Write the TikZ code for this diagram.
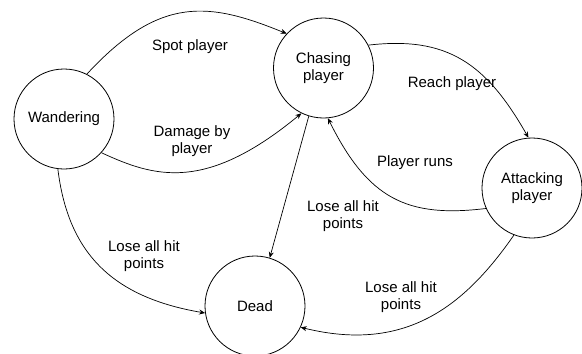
\documentclass[tikz,border=0pt]{standalone}
\usepackage{fontspec}
\setmainfont{Liberation Sans}
\usetikzlibrary{arrows.meta}
\begin{document}
\begin{tikzpicture}[x=1pt,y=-1pt,
  state/.style={circle,draw,line width=0.8pt,minimum size=100pt,inner sep=0pt,align=center},
  edge/.style={draw,line width=0.7pt,-{Stealth[length=6pt,width=5pt]}},
  lbl/.style={align=center,inner sep=0pt},
  every node/.style={font=\fontsize{15}{17.5}\selectfont}]
\useasboundingbox (0,0) rectangle (582,354);

% states
\node[state] (W) at (64,119) {Wandering};
\node[state] (C) at (323.5,68) {Chasing\\player};
\node[state] (A) at (532,188) {Attacking\\player};
\node[state] (D) at (255,306) {Dead};

% transitions
\draw[edge] (W.63) .. controls (160,-5) and (209,2) .. (C.137);
\draw[edge] (W.-42) .. controls (154,177) and (205,193) .. (C.244);
\draw[edge] (C.27) .. controls (447,36) and (486,63) .. (A.94.5);
\draw[edge] (A.204) .. controls (407,218) and (368,199) .. (C.275);
\draw[edge] (C.253.5) -- (D.73.6);
\draw[edge] (W.263) .. controls (68,252) and (111,297) .. (D.188);
\draw[edge] (A.249.4) .. controls (464,307) and (405,353) .. (D.335.4);

% labels
\node[lbl] (l1) at (190,47) {Spot player};
\node[lbl] (l2) at (192,141) {Damage by\\player};
\node[lbl] (l3) at (452,84) {Reach player};
\node[lbl] (l4) at (415,163) {Player runs};
\node[lbl] (l5) at (343,216) {Lose all hit\\points};
\node[lbl] (l6) at (144,256) {Lose all hit\\points};
\node[lbl] (l7) at (401,297) {Lose all hit\\points};
\end{tikzpicture}
\end{document}
